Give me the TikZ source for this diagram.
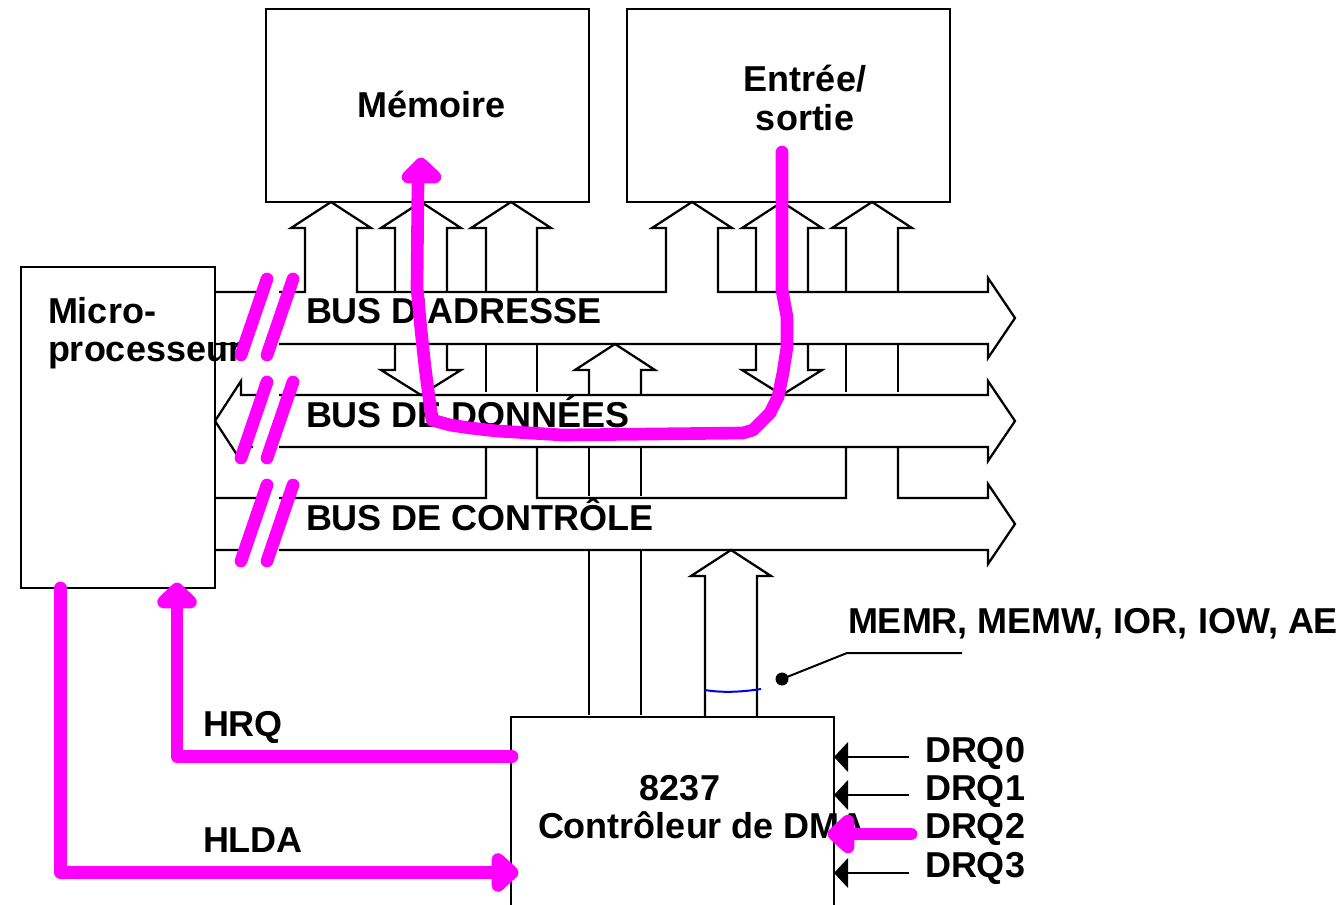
\documentclass[tikz,border=0pt]{standalone}
\usepackage{fontspec}
\setmainfont{Liberation Sans}
\definecolor{mag}{RGB}{255,0,255}
\definecolor{blu}{RGB}{0,0,230}
\tikzset{
  x=0.75pt,y=-0.75pt,
  ln/.style={draw=black,line width=1.7pt,line join=miter},
  boxn/.style={draw=black,line width=1.7pt,fill=white,inner sep=0pt,outer sep=0pt},
  lab/.style={font=\fontsize{27}{32}\bfseries\selectfont,inner sep=0pt,outer sep=0pt,anchor=base west},
  labc/.style={lab,anchor=base},
  hl/.style={draw=mag,line width=9.5pt,line cap=round,line join=round},
  hh/.style={draw=mag,fill=mag,line width=9.5pt,line join=round},
}
\begin{document}
\begin{tikzpicture}
\useasboundingbox (0,0) rectangle (1342,905);
\fill[white] (0,0) rectangle (1342,905);
% boxes
\node[boxn,minimum width=242.25pt,minimum height=144.75pt,anchor=north west] (mem) at (266,9) {};
\node[boxn,minimum width=242.25pt,minimum height=144.75pt,anchor=north west] (io) at (627,9) {};
\node[boxn,minimum width=145.5pt,minimum height=240.75pt,anchor=north west] (cpu) at (21,267) {};
% DMA box, open below the page edge
\draw[ln] (511,917) -- (511,717) -- (834,717) -- (834,917);
\coordinate (dma) at (511,717);
% address bus
\draw[ln] (216,292) -- (262,292) (279,292) -- (305,292) -- (305,228) -- (291,228) -- (331,202) -- (371,228) -- (357,228) -- (357,292) -- (666,292) -- (666,228) -- (652,228) -- (692,202) -- (732,228) -- (718,228) -- (718,292) -- (988,292) -- (988,278) -- (1015,318) -- (988,358) -- (988,344) -- (279,344) (245,344) -- (216,344);
% up arrows on address bus
\draw[ln] (395,292) -- (395,228) -- (381,228) -- (421,202) -- (461,228) -- (447,228) -- (447,292);
\draw[ln] (486,292) -- (486,228) -- (471,228) -- (511,202) -- (551,228) -- (537,228) -- (537,292);
\draw[ln] (756,292) -- (756,228) -- (742,228) -- (782,202) -- (822,228) -- (808,228) -- (808,292);
\draw[ln] (846,292) -- (846,228) -- (832,228) -- (872,202) -- (912,228) -- (898,228) -- (898,292);
% down arrows to data bus
\draw[ln] (395,344) -- (395,370) -- (381,370) -- (421,395) -- (461,370) -- (447,370) -- (447,344);
\draw[ln] (756,344) -- (756,370) -- (742,370) -- (782,395) -- (822,370) -- (808,370) -- (808,344);
% verticals
\draw[ln] (486,344) -- (486,392) (537,344) -- (537,392) (846,344) -- (846,392) (898,344) -- (898,392);
% up arrow data to address
\draw[ln] (589,395) -- (589,370) -- (575,370) -- (615,344) -- (655,370) -- (641,370) -- (641,395);
% data bus
\draw[ln] (262,395) -- (241,395) -- (241,381) -- (215,421) -- (241,461) (241,447) -- (253,447) (279,447) -- (988,447) -- (988,461) -- (1015,421) -- (988,381) -- (988,395) -- (279,395);
% control bus
\draw[ln] (216,498) -- (262,498) (279,498) -- (486,498) -- (486,447) (537,447) -- (537,498) -- (846,498) -- (846,447) (898,447) -- (898,498) -- (988,498) -- (988,484) -- (1015,524) -- (988,564) -- (988,550) -- (279,550) (245,550) -- (216,550);
\draw[ln] (589,447) -- (589,496) (641,447) -- (641,496);
% from DMA
\draw[ln] (589,550) -- (589,715) (641,550) -- (641,715);
\draw[ln] (705,717) -- (705,576) -- (691,576) -- (731,550) -- (771,576) -- (757,576) -- (757,717);
\draw[blu,line width=1.5pt] (705,690) .. controls (722,693) and (742,692) .. (761,689);
\fill (782,679) circle[radius=6.5];
\draw[black,line width=1.5pt] (782,679) -- (847,653) -- (962,653);
% DRQ arrows
\foreach \n/\yy in {a/757,b/795,c/834,d/873}{
  \coordinate (tip\n) at (834,\yy);
  \coordinate (end\n) at (909,\yy);
  \draw[black,line width=1.5pt] (end\n) -- (847,\yy);
  \fill (tip\n) -- (848,\yy-15) -- (848,\yy+15) -- cycle;
}
% texts
\node[lab] (t1) at (48,324) {Micro-};
\node[lab] (t2) at (48,361.5) {processeur};
\node[labc] (t3) at (432,118) {Mémoire};
\node[labc] (t4) at (805,92) {Entrée/};
\node[labc] (t5) at (805,131) {sortie};
\node[lab] (t6) at (306,324) {BUS D’ADRESSE};
\node[lab] (t7) at (306,427) {BUS DE DONNÉES};
\node[lab] (t8) at (306,530) {BUS DE CONTRÔLE};
\node[lab] (t9) at (848,633) {MEMR, MEMW, IOR, IOW, AE};
\node[labc] (t10) at (680,800) {8237};
\node[lab] (t11) at (538,838.5) {Contrôleur de DMA};
\node[lab] (t12) at (925,762) {DRQ0};
\node[lab] (t13) at (925,800) {DRQ1};
\node[lab] (t14) at (925,838.5) {DRQ2};
\node[lab] (t15) at (925,877.5) {DRQ3};
\node[lab] (t16) at (203,736) {HRQ};
\node[lab] (t17) at (203,852) {HLDA};
% slashes
\draw[hl] (267,279) -- (241,355) (293,279) -- (267,355);
\draw[hl] (267,382) -- (241,458) (293,382) -- (267,458);
\draw[hl] (267,485) -- (241,561) (293,485) -- (267,561);
% transfer path
\draw[hl] (782,152) -- (782,290) -- (787,317) -- (787,347) -- (783,373) -- (778,397) -- (770,413) -- (753,430) -- (743,433) -- (563,435) -- (497,431) -- (470,428) -- (450,425) -- (432,420) -- (425,367) -- (421,330) -- (417,288) -- (418,180);
\draw[hh] (421,164) -- (408,177) -- (435,177) -- cycle;
% HRQ
\draw[hl] (512,756.5) -- (177,756.5) -- (177,600);
\draw[hh] (177,589) -- (163.5,602) -- (190.5,602) -- cycle;
% HLDA
\draw[hl] (60.5,588) -- (60.5,872.5) -- (500,872.5);
\draw[hh] (512,872.5) -- (498,859.5) -- (498,885.5) -- cycle;
% DRQ2
\draw[hl] (911,834) -- (848,834);
\draw[hh] (834,834) -- (848,821) -- (848,847) -- cycle;
\end{tikzpicture}
\end{document}
